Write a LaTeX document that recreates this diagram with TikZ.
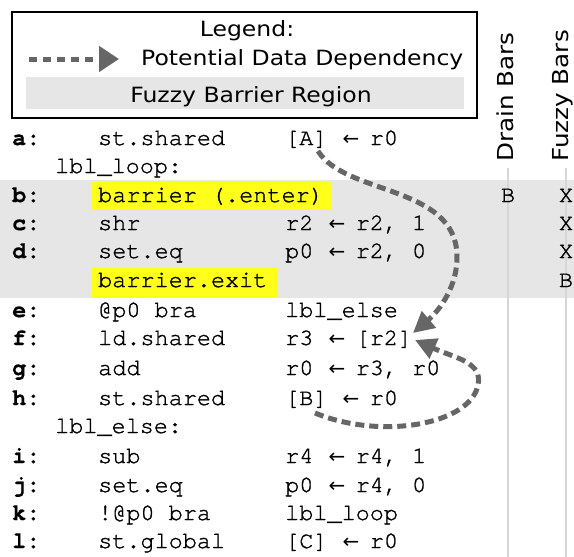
\documentclass[tikz,border=0pt]{standalone}
\usepackage{fontspec}
\setmainfont{DejaVu Sans}
\newfontfamily\codefont[FakeBold=1.2]{TeX Gyre Cursor}
\newfontfamily\codeboldfont[FakeBold=0.6]{TeX Gyre Cursor Bold}
\newfontfamily\arrowfont{DejaVu Sans}
\usetikzlibrary{arrows.meta}
\definecolor{bandgray}{HTML}{E6E6E6}
\definecolor{depgray}{HTML}{666666}
\definecolor{rulegray}{HTML}{D6D6D6}
\definecolor{hiyellow}{HTML}{FFFF1A}
% assignment arrow, set in one code column (it runs a little into the next)
\newcommand\asg{\makebox[14.1pt][l]{\hspace{1pt}\arrowfont\fontsize{20}{20}\selectfont ←}}

\begin{document}
\begin{tikzpicture}[x=1pt,y=-1pt,
  code/.style={font=\codefont\fontsize{23.5}{28}\selectfont, anchor=base west, inner sep=0pt},
  lab/.style={font=\codeboldfont\fontsize{23.5}{28}\selectfont, anchor=base west, inner sep=0pt},
  colentry/.style={font=\codefont\fontsize{23.5}{28}\selectfont, anchor=base, inner sep=0pt},
  legtext/.style={font=\fontsize{21}{25}\selectfont, inner sep=0pt},
  header/.style={font=\fontsize{22}{26}\selectfont, inner sep=0pt, rotate=90, anchor=base west},
  dep/.style={draw=depgray, line width=5pt, dash pattern=on 9pt off 5pt,
    -{Triangle[length=21pt,width=21pt]}},
  legdep/.style={draw=depgray, line width=5pt, dash pattern=on 7.5pt off 6.5pt,
    -{Triangle[length=20pt,width=25pt]}},
  colrule/.style={draw=rulegray, line width=2.5pt},
]
\useasboundingbox (0,0) rectangle (574,557);

% fuzzy barrier band and barrier highlights
\fill[bandgray] (0,180) rectangle (574,298);
\fill[hiyellow] (92,182) rectangle (332,210);
\fill[hiyellow] (92,268) rectangle (278,297);

% legend
\draw[line width=2.5pt] (12,12) rectangle (477,118);
\fill[bandgray] (26,77) rectangle (464,109);
\node[legtext, anchor=base] (legtitle) at (247,36) {\scalebox{1.12}[1]{Legend:}};
\coordinate (legA) at (29,59);
\coordinate (legB) at (119,59);
\draw[legdep] (legA) -- (legB);
\node[legtext, anchor=base west] (legdeptext) at (141,65) {\scalebox{1.12}[1]{Potential Data Dependency}};
\node[legtext, anchor=base] (legband) at (251,102) {\scalebox{1.12}[1]{Fuzzy Barrier Region}};

% column headers and rules
\node[header] (drainhead) at (513,162) {\scalebox{1.12}[1]{Drain Bars}};
\node[header] (fuzzyhead) at (568,162) {\scalebox{1.12}[1]{Fuzzy Bars}};
\coordinate (drainTop) at (508,168);
\coordinate (drainBot) at (508,557);
\coordinate (fuzzyTop) at (566,168);
\coordinate (fuzzyBot) at (566,557);
\draw[colrule] (drainTop) -- (drainBot);
\draw[colrule] (fuzzyTop) -- (fuzzyBot);

% code listing
\node[lab] (la) at (12,145) {a:};
\node[code] (oa) at (98,145) {st.shared};
\node[code] (ra) at (285,145) {[A] \asg{} r0};

\node[code] (loop) at (55,173) {lbl\_loop:};

\node[lab] (lb) at (12,202) {b:};
\node[code] (ob) at (98,202) {barrier (.enter)};

\node[lab] (lc) at (12,230) {c:};
\node[code] (oc) at (98,230) {shr};
\node[code] (rc) at (285,230) {r2 \asg{} r2, 1};

\node[lab] (ld) at (12,258) {d:};
\node[code] (od) at (98,258) {set.eq};
\node[code] (rd) at (285,258) {p0 \asg{} r2, 0};

\node[code] (ox) at (98,287) {barrier.exit};

\node[lab] (le) at (12,317) {e:};
\node[code] (oe) at (98,317) {@p0 bra};
\node[code] (re) at (285,317) {lbl\_else};

\node[lab] (lf) at (12,345) {f:};
\node[code] (of) at (98,345) {ld.shared};
\node[code] (rf) at (285,345) {r3 \asg{} [r2]};

\node[lab] (lg) at (12,375) {g:};
\node[code] (og) at (98,375) {add};
\node[code] (rg) at (285,375) {r0 \asg{} r3, r0};

\node[lab] (lh) at (12,405) {h:};
\node[code] (oh) at (98,405) {st.shared};
\node[code] (rh) at (285,405) {[B] \asg{} r0};

\node[code] (else) at (55,433) {lbl\_else:};

\node[lab] (li) at (12,463) {i:};
\node[code] (oi) at (98,463) {sub};
\node[code] (ri) at (285,463) {r4 \asg{} r4, 1};

\node[lab] (lj) at (12,492) {j:};
\node[code] (oj) at (98,492) {set.eq};
\node[code] (rj) at (285,492) {p0 \asg{} r4, 0};

\node[lab] (lk) at (12,520) {k:};
\node[code] (ok) at (98,520) {!@p0 bra};
\node[code] (rk) at (285,520) {lbl\_loop};

\node[lab] (ll) at (12,548) {l:};
\node[code] (ol) at (98,548) {st.global};
\node[code] (rl) at (285,548) {[C] \asg{} r0};

% barrier columns
\node[colentry] (db) at (508,202) {B};
\node[colentry] (fb) at (566,202) {X};
\node[colentry] (fc) at (566,230) {X};
\node[colentry] (fd) at (566,258) {X};
\node[colentry] (fx) at (566,287) {B};

% potential data dependencies
\coordinate (fromA) at (318,151);
\coordinate (toR2a) at (413,333);
\coordinate (fromB) at (315,413);
\coordinate (toR2b) at (415,340);
\draw[dep] (fromA) .. controls (345,195) and (455,185) .. (457,255)
  .. controls (458,285) and (440,310) .. (toR2a);
\draw[dep] (fromB) .. controls (380,440) and (470,425) .. (478,385)
  .. controls (483,362) and (455,358) .. (toR2b);
\end{tikzpicture}
\end{document}
